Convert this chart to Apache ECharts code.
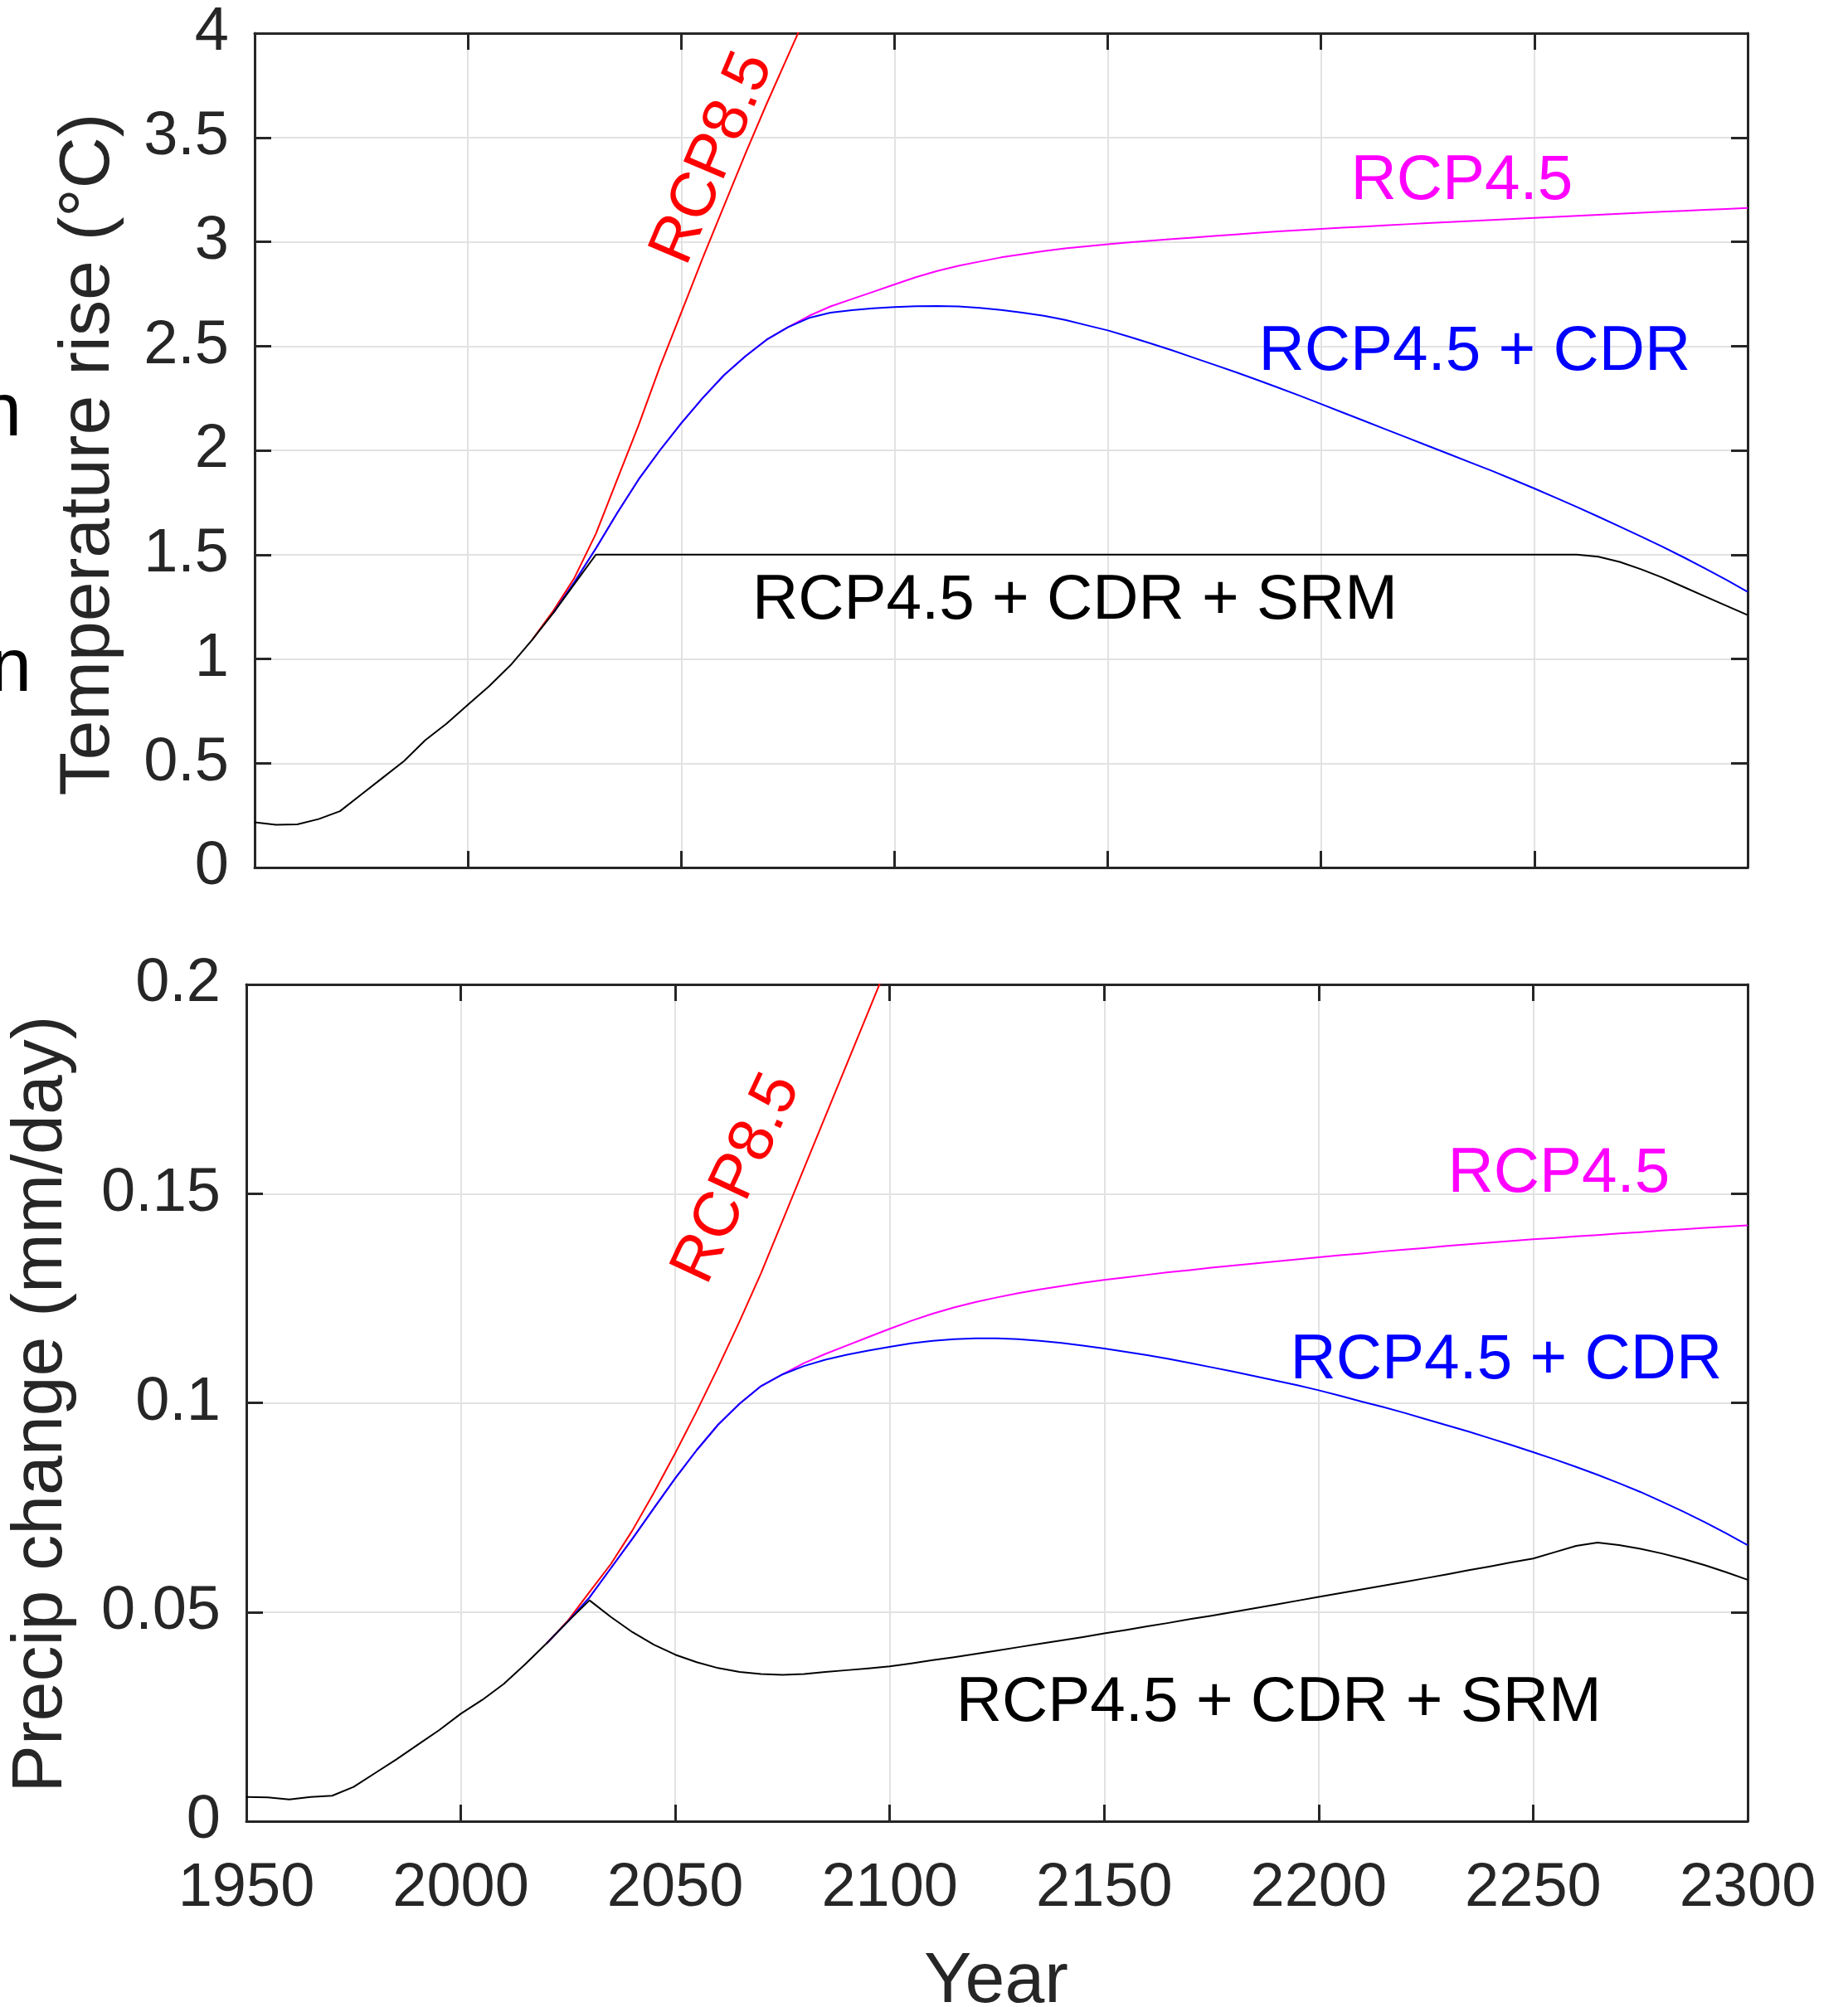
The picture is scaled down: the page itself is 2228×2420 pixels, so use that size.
<!DOCTYPE html>
<html><head><meta charset="utf-8">
<script src="https://cdn.jsdelivr.net/npm/echarts@6/dist/echarts.min.js"></script>
<style>html,body{margin:0;padding:0;background:#fff;}#c{width:2228px;height:2420px;}</style>
</head><body><div id="c"></div>
<script>
// ---------------- DATA ----------------
const years = [1950,1955,1960,1965,1970,1975,1980,1985,1990,1995,2000,2005,2010,2015,2020,2025,2030,2035,2040,2045,2050,2055,2060,2065,2070,2075,2080,2085,2090,2095,2100,2105,2110,2115,2120,2125,2130,2135,2140,2145,2150,2155,2160,2165,2170,2175,2180,2185,2190,2195,2200,2205,2210,2215,2220,2225,2230,2235,2240,2245,2250,2255,2260,2265,2270,2275,2280,2285,2290,2295,2300];

// Temperature rise (°C)
const tempRCP85 = [null,null,null,null,null,null,null,null,null,null,null,null,null,1.09,1.23,1.39,1.6,1.86,2.12,2.4,2.66,2.92,3.17,3.42,3.66,3.89,4.12,4.35,null,null,null,null,null,null,null,null,null,null,null,null,null,null,null,null,null,null,null,null,null,null,null,null,null,null,null,null,null,null,null,null,null,null,null,null,null,null,null,null,null,null,null];
const tempRCP45 = [null,null,null,null,null,null,null,null,null,null,null,null,null,null,1.22,1.37,1.53,1.7,1.86,2.0,2.13,2.25,2.36,2.45,2.53,2.59,2.645,2.69,2.725,2.76,2.795,2.83,2.86,2.885,2.905,2.925,2.94,2.955,2.968,2.978,2.988,2.997,3.005,3.013,3.02,3.028,3.035,3.043,3.05,3.056,3.062,3.068,3.073,3.079,3.084,3.089,3.094,3.099,3.104,3.109,3.114,3.119,3.124,3.129,3.134,3.139,3.144,3.148,3.153,3.157,3.162];
const tempCDR = [null,null,null,null,null,null,null,null,null,null,null,null,null,null,1.22,1.37,1.53,1.7,1.86,2.0,2.13,2.25,2.36,2.45,2.53,2.59,2.635,2.66,2.672,2.681,2.687,2.691,2.692,2.69,2.683,2.673,2.66,2.645,2.625,2.6,2.575,2.545,2.513,2.48,2.445,2.41,2.375,2.338,2.3,2.262,2.222,2.182,2.142,2.102,2.062,2.022,1.982,1.942,1.902,1.86,1.817,1.773,1.728,1.682,1.635,1.587,1.538,1.487,1.434,1.379,1.322];
const tempSRM = [0.217,0.205,0.207,0.232,0.27,0.35,0.43,0.51,0.61,0.69,0.78,0.87,0.97,1.09,1.22,1.36,1.5,1.5,1.5,1.5,1.5,1.5,1.5,1.5,1.5,1.5,1.5,1.5,1.5,1.5,1.5,1.5,1.5,1.5,1.5,1.5,1.5,1.5,1.5,1.5,1.5,1.5,1.5,1.5,1.5,1.5,1.5,1.5,1.5,1.5,1.5,1.5,1.5,1.5,1.5,1.5,1.5,1.5,1.5,1.5,1.5,1.5,1.5,1.49,1.465,1.43,1.39,1.345,1.3,1.255,1.21];

// Precip change (mm/day)
const precRCP85 = [null,null,null,null,null,null,null,null,null,null,null,null,null,null,0.0425,0.048,0.0548,0.0615,0.0695,0.0785,0.088,0.098,0.1085,0.1195,0.131,0.1435,0.156,0.1685,0.181,0.1935,0.206,null,null,null,null,null,null,null,null,null,null,null,null,null,null,null,null,null,null,null,null,null,null,null,null,null,null,null,null,null,null,null,null,null,null,null,null,null,null,null,null];
const precRCP45 = [null,null,null,null,null,null,null,null,null,null,null,null,null,null,0.0425,0.0478,0.0535,0.0605,0.0675,0.0748,0.082,0.0887,0.0948,0.0998,0.104,0.1068,0.1095,0.1117,0.1137,0.1157,0.1177,0.1196,0.1213,0.1228,0.1241,0.1252,0.1262,0.1271,0.1279,0.1287,0.1294,0.13,0.1306,0.1312,0.1317,0.1323,0.1328,0.1333,0.1338,0.1343,0.1348,0.1353,0.1357,0.1362,0.1366,0.137,0.1375,0.1379,0.1383,0.1387,0.1391,0.1394,0.1398,0.1401,0.1405,0.1408,0.1412,0.1415,0.1418,0.1421,0.1424];
const precCDR = [null,null,null,null,null,null,null,null,null,null,null,null,null,null,0.0425,0.0478,0.0535,0.0605,0.0675,0.0748,0.082,0.0887,0.0948,0.0998,0.104,0.1068,0.1088,0.1103,0.1115,0.1125,0.1134,0.1142,0.1148,0.1152,0.1154,0.1154,0.1152,0.1148,0.1143,0.1137,0.113,0.1122,0.1114,0.1105,0.1095,0.1085,0.1075,0.1064,0.1053,0.1042,0.103,0.1017,0.1003,0.099,0.0976,0.0961,0.0946,0.0931,0.0915,0.0899,0.0882,0.0865,0.0847,0.0828,0.0808,0.0787,0.0764,0.074,0.0715,0.0688,0.066];
const precSRM = [0.0058,0.0057,0.0052,0.0058,0.0061,0.0082,0.0115,0.0148,0.0183,0.0218,0.0257,0.029,0.0328,0.0375,0.0425,0.0478,0.0528,0.0488,0.0452,0.0422,0.0398,0.038,0.0366,0.0357,0.0352,0.035,0.0352,0.0357,0.0361,0.0365,0.037,0.0377,0.0385,0.0392,0.04,0.0408,0.0416,0.0424,0.0432,0.044,0.0449,0.0457,0.0466,0.0474,0.0483,0.0491,0.05,0.0509,0.0518,0.0527,0.0536,0.0545,0.0554,0.0563,0.0572,0.0581,0.059,0.06,0.0609,0.0619,0.0628,0.0643,0.0658,0.0666,0.066,0.0651,0.064,0.0627,0.0612,0.0595,0.0577];

const xTicks = {min:1950, max:2300, interval:50};
const tempTicks = {min:0, max:4, interval:0.5};
const precTicks = {min:0, max:0.2, interval:0.05};

const seriesNames = ['RCP8.5','RCP4.5','RCP4.5 + CDR','RCP4.5 + CDR + SRM'];

// annotation labels (data coordinates)
const annotations = [
  {grid:0, text:'RCP8.5', at:[2057.5, 3.40], color:'#ff0000', rot:67},
  {grid:0, text:'RCP4.5', at:[2233, 3.31], color:'#ff00ff', rot:0},
  {grid:0, text:'RCP4.5 + CDR', at:[2236, 2.49], color:'#0000ff', rot:0},
  {grid:0, text:'RCP4.5 + CDR + SRM', at:[2142.3, 1.296], color:'#000000', rot:0},
  {grid:1, text:'RCP8.5', at:[2064.5, 0.1536], color:'#ff0000', rot:65},
  {grid:1, text:'RCP4.5', at:[2256, 0.1556], color:'#ff00ff', rot:0},
  {grid:1, text:'RCP4.5 + CDR', at:[2243.7, 0.111], color:'#0000ff', rot:0},
  {grid:1, text:'RCP4.5 + CDR + SRM', at:[2190.7, 0.0291], color:'#000000', rot:0}
];

// ---------------- CHART ----------------
const FONT = '"Liberation Sans", Arial, Helvetica, sans-serif';
const AX = '#262626';
const chart = echarts.init(document.getElementById('c'), null, {renderer:'canvas'});

function pairs(vals){ return years.map((y,i)=>[y, vals[i]]); }

function xAx(grid, pos, labels){
  return {
    gridIndex:grid, type:'value', position:pos, min:xTicks.min, max:xTicks.max, interval:xTicks.interval,
    axisLine:{show:true, onZero:false, lineStyle:{color:AX, width:3}},
    axisTick:{show:true, inside:true, length:20, lineStyle:{color:AX, width:3}},
    axisLabel:{show:labels, color:AX, fontFamily:FONT, fontSize:74, margin:45, formatter:v=>String(v)},
    splitLine:{show:pos==='bottom', lineStyle:{color:'#e2e2e2', width:2}}
  };
}
function yAx(grid, pos, t, labels){
  return {
    gridIndex:grid, type:'value', position:pos, min:t.min, max:t.max, interval:t.interval,
    axisLine:{show:true, onZero:false, lineStyle:{color:AX, width:3}},
    axisTick:{show:true, inside:true, length:20, lineStyle:{color:AX, width:3}},
    axisLabel:{show:labels, color:AX, fontFamily:FONT, fontSize:74, margin:31},
    splitLine:{show:pos==='left', lineStyle:{color:'#e2e2e2', width:2}}
  };
}
const colors = ['#ff0000','#ff00ff','#0000ff','#000000'];
function line(name, vals, xi, yi, color){
  return {name, type:'line', xAxisIndex:xi, yAxisIndex:yi, data:pairs(vals), showSymbol:false, symbol:'none',
    smooth:false, lineStyle:{color, width:2, join:'round'}, itemStyle:{color}, clip:true, animation:false, silent:true};
}

chart.setOption({
  animation:false,
  backgroundColor:'#ffffff',
  grid:[
    {left:307, top:40, width:1800, height:1006},
    {left:297, top:1187, width:1810, height:1009}
  ],
  xAxis:[ xAx(0,'bottom',false), xAx(0,'top',false), xAx(1,'bottom',true), xAx(1,'top',false) ],
  yAxis:[ yAx(0,'left',tempTicks,true), yAx(0,'right',tempTicks,false), yAx(1,'left',precTicks,true), yAx(1,'right',precTicks,false) ],
  series:[
    line(seriesNames[0], tempRCP85, 0,0, colors[0]),
    line(seriesNames[1], tempRCP45, 0,0, colors[1]),
    line(seriesNames[2], tempCDR, 0,0, colors[2]),
    line(seriesNames[3], tempSRM, 0,0, colors[3]),
    line(seriesNames[0], precRCP85, 2,2, colors[0]),
    line(seriesNames[1], precRCP45, 2,2, colors[1]),
    line(seriesNames[2], precCDR, 2,2, colors[2]),
    line(seriesNames[3], precSRM, 2,2, colors[3])
  ]
});

const g = [];
annotations.forEach(a=>{
  const p = chart.convertToPixel({xAxisIndex:a.grid===0?0:2, yAxisIndex:a.grid===0?0:2}, a.at);
  g.push({type:'text', x:p[0], y:p[1] + (a.rot ? 0 : 5), rotation:a.rot*Math.PI/180, silent:true,
    style:{text:a.text, fill:a.color, font:'76.5px '+FONT, textAlign:'center', textVerticalAlign:'middle'}});
});
// axis titles
g.push({type:'text', x:107, y:548, rotation:Math.PI/2, silent:true,
  style:{text:'Temperature rise (°C)', fill:AX, font:'86px '+FONT, textAlign:'center', textVerticalAlign:'middle'}});
g.push({type:'text', x:50, y:1693, rotation:Math.PI/2, silent:true,
  style:{text:'Precip change (mm/day)', fill:AX, font:'86px '+FONT, textAlign:'center', textVerticalAlign:'middle'}});
g.push({type:'text', x:1201, y:2390, silent:true,
  style:{text:'Year', fill:AX, font:'86px '+FONT, textAlign:'center', textVerticalAlign:'middle'}});
// partially visible glyphs cut at the left edge of the figure
g.push({type:'text', x:-24, y:500, silent:true, style:{text:'n', fill:'#000', font:'90px '+FONT, textAlign:'left', textVerticalAlign:'middle'}});
g.push({type:'text', x:-12, y:808, silent:true, style:{text:'n', fill:'#000', font:'90px '+FONT, textAlign:'left', textVerticalAlign:'middle'}});
chart.setOption({graphic:g});
</script></body></html>
